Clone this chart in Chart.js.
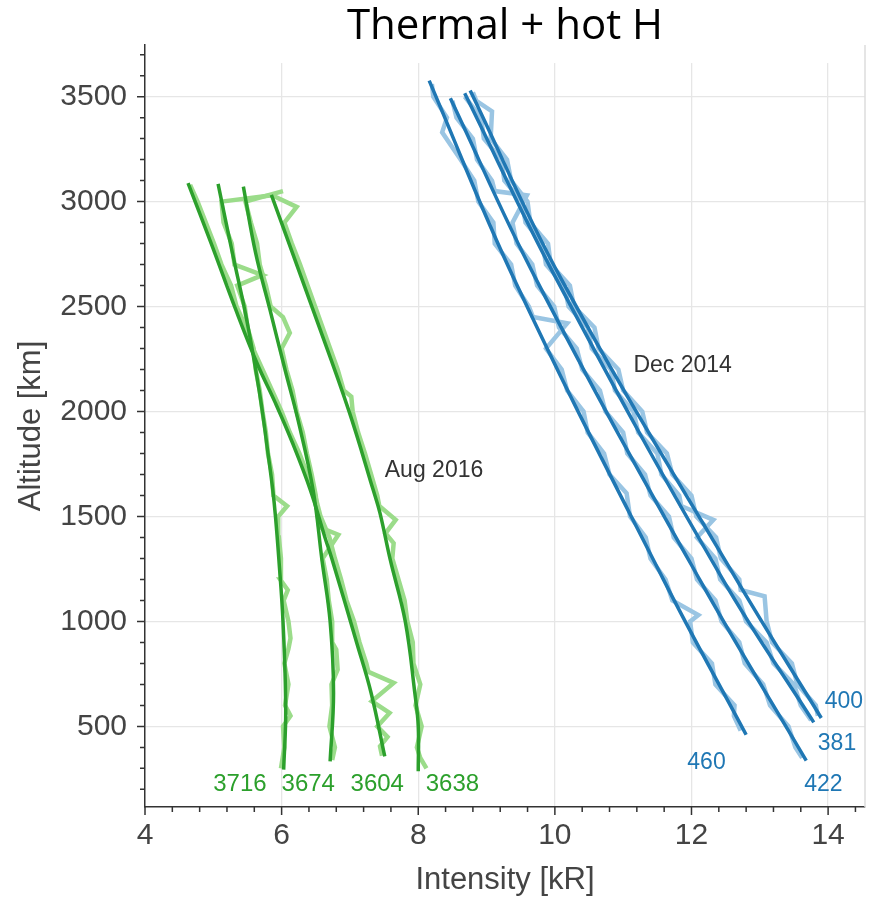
<!DOCTYPE html>
<html>
<head>
<meta charset="utf-8">
<script src="https://cdn.jsdelivr.net/npm/chart.js@4"></script>
<style>
  html, body { margin: 0; padding: 0; background: #fff; }
</style>
</head>
<body>
<canvas id="myChart" width="872" height="900"></canvas>
<script>
// Tick values that carry a label / grid line
const xMajor = [4, 6, 8, 10, 12, 14];
const xGrid = [6, 8, 10, 12, 14];
const yMajor = [500, 1000, 1500, 2000, 2500, 3000, 3500];

// Aug 2016 fitted profiles (altitude km / intensity kR)
const fit3716Alt = [294, 580, 1000, 1294, 1500, 1627, 1802, 2040, 2294, 2484, 2754, 3084];
const fit3716Int = [6.03, 6.06, 6.02, 5.96, 5.91, 5.87, 5.80, 5.70, 5.57, 5.46, 5.28, 5.07];
const fit3674Alt = [333, 659, 1000, 1294, 1627, 1960, 2199, 2484, 2754, 3071];
const fit3674Int = [6.71, 6.76, 6.71, 6.59, 6.46, 6.24, 6.05, 5.83, 5.62, 5.44];
const fit3604Alt = [357, 659, 897, 1294, 1405, 1627, 1850, 2040, 2230, 2484, 2800, 3088];
const fit3604Int = [7.51, 7.31, 7.10, 6.74, 6.63, 6.42, 6.16, 5.91, 5.64, 5.33, 4.97, 4.63];
const fit3638Alt = [286, 500, 659, 1000, 1294, 1516, 1627, 2008, 2484, 3032];
const fit3638Int = [8.00, 8.00, 7.95, 7.81, 7.59, 7.44, 7.34, 6.98, 6.46, 5.85];

// Aug 2016 measured profiles
const obs3716Alt = [300, 400, 500, 550, 600, 700, 800, 870, 920, 1000, 1100, 1150, 1200, 1300, 1400, 1500, 1550, 1600, 1700, 1800, 1900, 2000, 2100, 2200, 2300, 2400, 2500, 2600, 2650, 2700, 2800, 2900, 3000, 3030];
const obs3716Int = [5.99, 6.04, 6.02, 6.13, 6.05, 6.10, 6.04, 6.10, 6.13, 6.10, 6.03, 6.09, 5.98, 5.99, 5.96, 5.95, 6.08, 5.88, 5.86, 5.80, 5.77, 5.72, 5.68, 5.62, 5.59, 5.50, 5.46, 5.35, 5.72, 5.31, 5.27, 5.15, 5.12, 5.86];
const obs3674Alt = [340, 400, 500, 600, 700, 770, 865, 900, 1000, 1100, 1200, 1300, 1413, 1450, 1500, 1600, 1700, 1800, 1900, 2000, 2100, 2200, 2300, 2375, 2450, 2500, 2600, 2700, 2800, 2900, 3000, 3050];
const obs3674Int = [6.74, 6.78, 6.70, 6.74, 6.73, 6.82, 6.80, 6.74, 6.74, 6.69, 6.66, 6.60, 6.83, 6.55, 6.53, 6.50, 6.44, 6.37, 6.31, 6.22, 6.16, 6.07, 6.00, 6.12, 6.02, 5.84, 5.77, 5.68, 5.64, 5.55, 5.47, 6.02];
const obs3604Alt = [360, 405, 450, 500, 564, 620, 707, 760, 800, 900, 1000, 1100, 1200, 1300, 1400, 1500, 1600, 1700, 1800, 1900, 2000, 2100, 2200, 2300, 2400, 2500, 2600, 2700, 2800, 2900, 3000, 3080];
const obs3604Int = [7.47, 7.44, 7.55, 7.40, 7.58, 7.32, 7.64, 7.27, 7.24, 7.14, 7.06, 6.95, 6.87, 6.78, 6.70, 6.57, 6.49, 6.38, 6.26, 6.12, 6.00, 5.86, 5.72, 5.58, 5.48, 5.34, 5.26, 5.12, 5.01, 4.89, 4.77, 4.66];
const obs3638Alt = [300, 350, 400, 500, 600, 700, 800, 900, 1000, 1100, 1200, 1300, 1373, 1420, 1484, 1550, 1600, 1700, 1800, 1900, 2000, 2071, 2100, 2200, 2300, 2400, 2500, 2600, 2700, 2800, 2900, 2975, 3030];
const obs3638Int = [8.12, 8.03, 7.98, 8.05, 7.96, 8.03, 7.93, 7.92, 7.84, 7.80, 7.71, 7.62, 7.64, 7.52, 7.67, 7.43, 7.40, 7.31, 7.22, 7.12, 7.04, 7.02, 6.91, 6.82, 6.71, 6.60, 6.49, 6.38, 6.27, 6.15, 6.04, 6.22, 5.86];

// Dec 2014 fitted profiles
const fit460Alt = [460, 1199, 2627, 3576];
const fit460Int = [12.80, 11.59, 9.41, 8.16];
const fit422Alt = [337, 1199, 2627, 3492];
const fit422Int = [13.68, 12.12, 9.73, 8.47];
const fit381Alt = [519, 1199, 2627, 3516];
const fit381Int = [13.79, 12.46, 10.03, 8.68];
const fit400Alt = [540, 1199, 2627, 3529];
const fit400Int = [13.90, 12.66, 10.10, 8.76];

// Dec 2014 measured profiles
const obs460Alt = [480, 550, 600, 700, 800, 900, 1000, 1030, 1100, 1200, 1300, 1400, 1500, 1611, 1700, 1800, 1900, 2000, 2100, 2200, 2300, 2420, 2450, 2500, 2600, 2700, 2800, 2900, 3000, 3100, 3200, 3330, 3400, 3500, 3560];
const obs460Int = [12.72, 12.62, 12.63, 12.35, 12.30, 12.02, 11.98, 12.10, 11.72, 11.62, 11.40, 11.33, 11.10, 11.05, 10.80, 10.72, 10.48, 10.42, 10.18, 10.10, 9.87, 10.18, 9.68, 9.62, 9.42, 9.36, 9.12, 9.10, 8.88, 8.82, 8.62, 8.35, 8.42, 8.22, 8.20];
const obs422Alt = [350, 400, 500, 600, 700, 800, 900, 1000, 1100, 1200, 1300, 1400, 1500, 1600, 1700, 1800, 1900, 2000, 2100, 2200, 2300, 2400, 2500, 2600, 2700, 2800, 2900, 3030, 3050, 3100, 3200, 3300, 3400, 3480];
const obs422Int = [13.62, 13.52, 13.42, 13.15, 13.05, 12.78, 12.70, 12.44, 12.35, 12.08, 12.00, 11.74, 11.67, 11.40, 11.32, 11.06, 11.00, 10.74, 10.66, 10.40, 10.32, 10.06, 9.99, 9.74, 9.67, 9.44, 9.38, 9.59, 9.12, 9.08, 8.86, 8.80, 8.56, 8.50];
const obs381Alt = [530, 600, 700, 800, 900, 1000, 1100, 1200, 1300, 1400, 1484, 1550, 1600, 1700, 1800, 1900, 2000, 2100, 2200, 2300, 2400, 2500, 2600, 2700, 2800, 2900, 3000, 3100, 3200, 3300, 3400, 3500];
const obs381Int = [13.75, 13.60, 13.50, 13.20, 13.10, 12.80, 12.70, 12.42, 12.35, 12.08, 12.32, 11.85, 11.82, 11.56, 11.50, 11.22, 11.15, 10.88, 10.82, 10.54, 10.48, 10.20, 10.14, 9.87, 9.82, 9.57, 9.52, 9.26, 9.22, 8.96, 8.92, 8.68];
const obs400Alt = [550, 600, 700, 800, 900, 1000, 1120, 1150, 1200, 1300, 1400, 1500, 1600, 1700, 1800, 1900, 2000, 2100, 2200, 2300, 2400, 2500, 2600, 2700, 2800, 2900, 3000, 3100, 3200, 3300, 3430, 3480, 3520];
const obs400Int = [13.85, 13.82, 13.55, 13.47, 13.18, 13.10, 13.07, 12.72, 12.70, 12.43, 12.36, 12.07, 12.00, 11.72, 11.64, 11.35, 11.28, 11.00, 10.93, 10.64, 10.58, 10.28, 10.22, 9.94, 9.90, 9.64, 9.60, 9.36, 9.30, 9.06, 9.08, 8.85, 8.80];

// Text annotations (placed in data coordinates)
const noteText = ['Aug 2016', 'Dec 2014'];
const noteX = [7.51, 11.15];
const noteY = [1720, 2220];
const augIds = ['3716', '3674', '3604', '3638'];
const augIdX = [5.39, 6.39, 7.40, 8.50];
const augIdY = [222, 222, 222, 222];
const decIds = ['460', '422', '381', '400'];
const decIdX = [12.22, 13.93, 14.13, 14.23];
const decIdY = [326, 224, 419, 619];

const GREEN = '#2ca02c', LIGHT_GREEN = '#9bdc8a';
const BLUE = '#1f77b4', LIGHT_BLUE = '#9ac5e3';
const FONT = "'Liberation Sans', Arial, sans-serif";

function pts(xs, ys) {
    return xs.map((v, i) => ({ x: v, y: ys[i] }));
}
function fitLine(xs, ys, color) {
    return { data: pts(xs, ys), borderColor: color, borderWidth: 3.5, tension: 0.4, showLine: true, pointRadius: 0, order: 1 };
}
function obsLine(xs, ys, color) {
    return { data: pts(xs, ys), borderColor: color, borderWidth: 4.5, tension: 0, showLine: true, pointRadius: 0, order: 2 };
}

// draws minor/major tick marks, right frame line and the text labels
const extras = {
    id: 'extras',
    beforeDatasetsDraw(chart) {
        const { ctx, chartArea: a, scales: { y } } = chart;
        // the grid is hidden just under the title in the original
        ctx.save();
        ctx.fillStyle = '#fff';
        ctx.fillRect(a.left + 1, a.top, a.right - a.left - 2, y.getPixelForValue(3660) - a.top);
        ctx.restore();
    },
    afterDatasetsDraw(chart) {
        const { ctx, scales: { x, y } } = chart;
        ctx.save();
        ctx.textBaseline = 'middle';
        ctx.fillStyle = '#333';
        ctx.font = '23px ' + FONT;
        ctx.textAlign = 'left';
        noteText.forEach((t, i) => ctx.fillText(t, x.getPixelForValue(noteX[i]), y.getPixelForValue(noteY[i])));
        ctx.textAlign = 'center';
        ctx.font = '24px ' + FONT;
        ctx.fillStyle = GREEN;
        augIds.forEach((t, i) => ctx.fillText(t, x.getPixelForValue(augIdX[i]), y.getPixelForValue(augIdY[i])));
        ctx.font = '23px ' + FONT;
        ctx.fillStyle = BLUE;
        decIds.forEach((t, i) => ctx.fillText(t, x.getPixelForValue(decIdX[i]), y.getPixelForValue(decIdY[i])));
        ctx.restore();
    },
    afterDraw(chart) {
        const { ctx, chartArea: a, scales: { x, y } } = chart;
        ctx.save();
        ctx.strokeStyle = '#dcdcdc';
        ctx.lineWidth = 1.5;
        ctx.beginPath();
        ctx.moveTo(a.right, a.top);
        ctx.lineTo(a.right, a.bottom);
        ctx.stroke();
        ctx.strokeStyle = '#333';
        ctx.beginPath();
        x.ticks.forEach(t => {
            const px = x.getPixelForValue(t.value);
            const len = xMajor.includes(t.value) ? 8 : 5;
            ctx.moveTo(px, a.bottom);
            ctx.lineTo(px, a.bottom + len);
        });
        y.ticks.forEach(t => {
            const py = y.getPixelForValue(t.value);
            const len = yMajor.includes(t.value) ? 8 : 5;
            ctx.moveTo(a.left, py);
            ctx.lineTo(a.left - len, py);
        });
        ctx.stroke();
        ctx.restore();
    }
};

const ctx = document.getElementById('myChart').getContext('2d');
const myChart = new Chart(ctx, {
    type: 'scatter',
    data: {
        datasets: [
            fitLine(fit3716Int, fit3716Alt, GREEN),
            fitLine(fit3674Int, fit3674Alt, GREEN),
            fitLine(fit3604Int, fit3604Alt, GREEN),
            fitLine(fit3638Int, fit3638Alt, GREEN),
            fitLine(fit460Int, fit460Alt, BLUE),
            fitLine(fit422Int, fit422Alt, BLUE),
            fitLine(fit381Int, fit381Alt, BLUE),
            fitLine(fit400Int, fit400Alt, BLUE),
            obsLine(obs3716Int, obs3716Alt, LIGHT_GREEN),
            obsLine(obs3674Int, obs3674Alt, LIGHT_GREEN),
            obsLine(obs3604Int, obs3604Alt, LIGHT_GREEN),
            obsLine(obs3638Int, obs3638Alt, LIGHT_GREEN),
            obsLine(obs460Int, obs460Alt, LIGHT_BLUE),
            obsLine(obs422Int, obs422Alt, LIGHT_BLUE),
            obsLine(obs381Int, obs381Alt, LIGHT_BLUE),
            obsLine(obs400Int, obs400Alt, LIGHT_BLUE)
        ]
    },
    options: {
        responsive: false,
        animation: false,
        layout: { padding: { left: 0, right: 7, top: 0, bottom: 0 } },
        plugins: {
            legend: { display: false },
            tooltip: { enabled: false },
            title: {
                display: true,
                text: 'Thermal + hot H',
                fullSize: false,
                color: '#000',
                font: { family: "'Open Sans', sans-serif", size: 42, weight: 'normal', lineHeight: 0.857 },
                padding: { top: 9, bottom: 0 }
            }
        },
        scales: {
            x: {
                type: 'linear',
                min: 4,
                max: 14.54,
                afterFit: s => { s.height = 93; },
                ticks: {
                    stepSize: 0.4,
                    autoSkip: false,
                    includeBounds: false,
                    maxRotation: 0,
                    minRotation: 0,
                    padding: 11,
                    color: '#444',
                    font: { family: FONT, size: 30 },
                    callback: v => xMajor.includes(v) ? String(v) : ''
                },
                grid: {
                    drawTicks: false,
                    lineWidth: 1.3,
                    color: c => (c.tick && xGrid.includes(c.tick.value)) ? '#e6e6e6' : 'rgba(0,0,0,0)'
                },
                border: { color: '#333', width: 1.5 },
                title: {
                    display: true,
                    text: 'Intensity [kR]',
                    color: '#444',
                    font: { family: FONT, size: 31 },
                    padding: { top: 0, bottom: 1 }
                }
            },
            y: {
                type: 'linear',
                min: 116,
                max: 3746,
                afterFit: s => { s.width = 145; },
                ticks: {
                    stepSize: 100,
                    autoSkip: false,
                    includeBounds: false,
                    padding: 18,
                    color: '#444',
                    font: { family: FONT, size: 30 },
                    callback: v => yMajor.includes(v) ? String(v) : ''
                },
                grid: {
                    drawTicks: false,
                    lineWidth: 1.3,
                    color: c => (c.tick && yMajor.includes(c.tick.value)) ? '#e6e6e6' : 'rgba(0,0,0,0)'
                },
                border: { color: '#333', width: 1.5 },
                title: {
                    display: true,
                    text: 'Altitude [km]',
                    color: '#444',
                    font: { family: FONT, size: 31 },
                    padding: { top: 13, bottom: 0 }
                }
            }
        }
    },
    plugins: [extras]
});
</script>
</body>
</html>
